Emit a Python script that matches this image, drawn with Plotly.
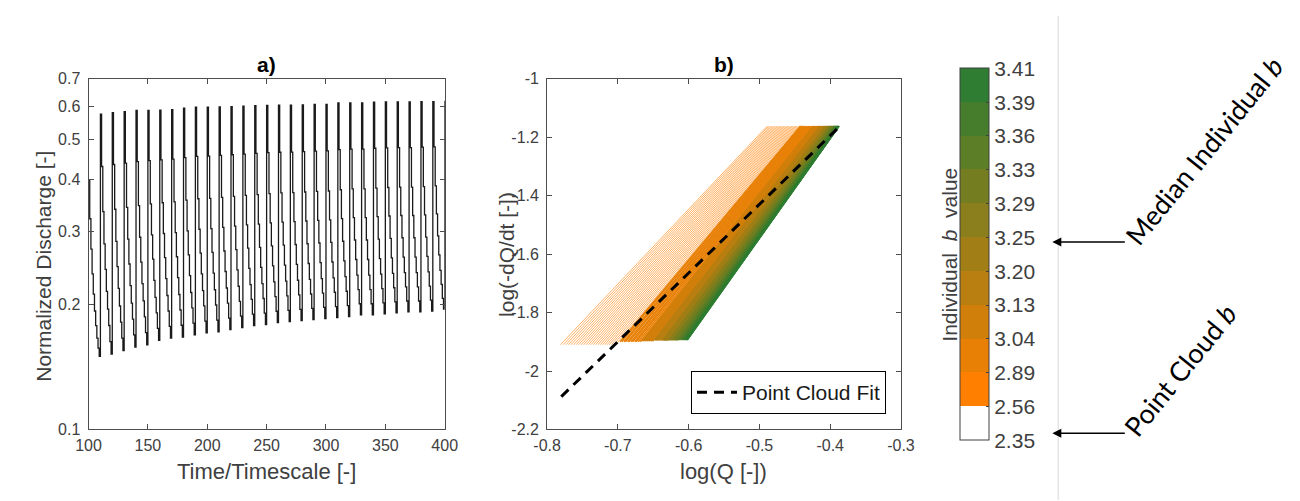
import numpy as np
import plotly.graph_objects as go

# ---------------- Panel a data ----------------
# events (rain pulses) every 10 time units
event_times = [110, 120, 130, 140, 150, 160, 170, 180, 190, 200,
               210, 220, 230, 240, 250, 260, 270, 280, 290, 300,
               310, 320, 330, 340, 350, 360, 370, 380, 390, 400]
# discharge reached at each pulse
peak_q = [0.575, 0.580, 0.583, 0.587, 0.587, 0.588, 0.590, 0.595, 0.598, 0.598,
          0.599, 0.600, 0.601, 0.603, 0.604, 0.605, 0.605, 0.606, 0.607, 0.607,
          0.612, 0.612, 0.612, 0.615, 0.616, 0.616, 0.616, 0.617, 0.617, 0.620]
# discharge just before each pulse (end of the preceding recession)
trough_q = [0.150, 0.152, 0.155, 0.158, 0.160, 0.164, 0.166, 0.167, 0.169, 0.171,
            0.172, 0.174, 0.176, 0.178, 0.179, 0.181, 0.182, 0.183, 0.184, 0.185,
            0.186, 0.187, 0.189, 0.189, 0.190, 0.191, 0.192, 0.192, 0.193, 0.195]
# recession read from the first event: position of each daily value between
# trough (0) and peak (1), in log space, for days 0..9 after a pulse
recession_profile = [1.0, 0.782, 0.594, 0.459, 0.353, 0.261, 0.187, 0.119, 0.052, 0.0]
# recession already running at the left edge of the window (t = 100..109)
initial_t = [100, 101, 102, 103, 104, 105, 106, 107, 108, 109]
initial_q = [0.400, 0.322, 0.272, 0.237, 0.212, 0.193, 0.178, 0.166, 0.157, 0.150]

# ---------------- Panel b data ----------------
cb_ticks = [2.35, 2.56, 2.89, 3.04, 3.13, 3.20, 3.25, 3.29, 3.33, 3.36, 3.39, 3.41]
cb_ticktext = ["2.35", "2.56", "2.89", "3.04", "3.13", "3.20", "3.25", "3.29",
               "3.33", "3.36", "3.39", "3.41"]
b_individual = [
    2.56, 2.574, 2.588, 2.602, 2.616, 2.63, 2.644, 2.658, 2.672, 2.686, 2.70, 2.714,
    2.728, 2.742, 2.756, 2.77, 2.784, 2.798, 2.812, 2.826, 2.84, 2.854, 2.868, 2.882,
    2.895, 2.905, 2.92, 2.93, 2.945, 2.955, 2.97, 2.98, 2.995, 3.005, 3.02, 3.035,
    3.045, 3.05, 3.06, 3.065, 3.075, 3.08, 3.09, 3.095, 3.105, 3.11, 3.12, 3.125,
    3.135, 3.14, 3.145, 3.15, 3.155, 3.16, 3.165, 3.17, 3.18, 3.185, 3.19, 3.195,
    3.202, 3.206, 3.21, 3.214, 3.218, 3.222, 3.226, 3.23, 3.234, 3.238, 3.242, 3.246,
    3.252, 3.255, 3.258, 3.261, 3.264, 3.268, 3.271, 3.274, 3.277, 3.28, 3.284, 3.287,
    3.292, 3.295, 3.298, 3.301, 3.304, 3.308, 3.311, 3.314, 3.317, 3.32, 3.324, 3.327,
    3.332, 3.334, 3.337, 3.339, 3.342, 3.344, 3.347, 3.349, 3.352, 3.354, 3.356, 3.358,
    3.362, 3.364, 3.367, 3.369, 3.372, 3.374, 3.377, 3.379, 3.382, 3.384, 3.386, 3.388,
    3.391, 3.393, 3.395, 3.396, 3.398, 3.40, 3.402, 3.403, 3.405, 3.407, 3.408, 3.41,
]
# individual fits pass (approximately) through a common point
pivot_logq = -0.0818
pivot_logdq = -0.1196
logdq_top = -1.162
logdq_bottom_by_band = [-1.910, -1.900, -1.897, -1.895, -1.895,
                        -1.894, -1.894, -1.893, -1.893, -1.893]
# point cloud fit
fit_b = 2.35
fit_intercept = -0.2545
fit_logq_range = [-0.78, -0.39]

band_colors = ["#ffffff", "#ff8000", "#e88006", "#d17f0b", "#b97f11", "#a27f16",
               "#8b7e1c", "#747e21", "#5c7e27", "#457d2c", "#2e7d32"]

FONT = "Liberation Sans, Arial, sans-serif"
GREY = "#404040"
W, H = 1300, 501


def px(x):
    return x / W


def py(y):
    return 1 - y / H


# ---------------- build panel a series ----------------
t_series = list(initial_t)
q_series = list(initial_q)
for i, te in enumerate(event_times):
    if i == len(event_times) - 1:
        t_series.append(te)
        q_series.append(peak_q[i])
        break
    tr = trough_q[i + 1]
    for k, f in enumerate(recession_profile):
        t_series.append(te + k)
        q_series.append(tr * (peak_q[i] / tr) ** f)

fig = go.Figure()

fig.add_trace(go.Scatter(
    x=t_series, y=q_series, mode="lines", line=dict(color="#1a1a1a", width=1.3, shape="hv"),
    showlegend=False, xaxis="x", yaxis="y", hoverinfo="skip"))

# ---------------- panel b individual lines ----------------
b_arr = np.array(b_individual)
band_idx = np.clip(np.searchsorted(cb_ticks, b_arr, side="right") - 1, 1, 10)
for band in range(1, 11):
    xs, ys = [], []
    ybot = logdq_bottom_by_band[band - 1]
    for b in b_arr[band_idx == band]:
        x_top = pivot_logq + (logdq_top - pivot_logdq) / b
        x_bot = pivot_logq + (ybot - pivot_logdq) / b
        xs += [x_bot, x_top, None]
        ys += [ybot, logdq_top, None]
    fig.add_trace(go.Scatter(
        x=xs, y=ys, mode="lines",
        opacity=0.6 if band == 1 else 1.0,
        line=dict(color=band_colors[band], width=1.0 if band == 1 else 1.6),
        showlegend=False, xaxis="x2", yaxis="y2", hoverinfo="skip"))

# point cloud fit
fit_x = np.array(fit_logq_range)
fig.add_trace(go.Scatter(
    x=fit_x, y=fit_intercept + fit_b * fit_x, mode="lines",
    line=dict(color="black", width=3, dash="10px,7px"),
    name="Point Cloud Fit", showlegend=True, xaxis="x2", yaxis="y2", hoverinfo="skip"))

# colorbar (discrete bands, evenly spaced ticks)
nb = len(cb_ticks) - 1
cscale = []
for k in range(nb):
    cscale.append([k / nb, band_colors[k]])
    cscale.append([(k + 1) / nb, band_colors[k]])
fig.add_trace(go.Scatter(
    x=[None], y=[None], mode="markers", showlegend=False, xaxis="x2", yaxis="y2",
    marker=dict(color=[0], cmin=0, cmax=nb, colorscale=cscale, showscale=True,
                colorbar=dict(
                    x=px(959), xanchor="left", xpad=0, ypad=0,
                    y=py(246.7), yanchor="middle",
                    thickness=29, thicknessmode="pixels",
                    len=372, lenmode="pixels",
                    outlinecolor=GREY, outlinewidth=1,
                    tickmode="array", tickvals=list(range(nb + 1)), ticktext=cb_ticktext,
                    ticks="inside", ticklen=3, tickcolor=GREY,
                    tickfont=dict(family=FONT, size=21, color=GREY)))))

axis_common = dict(showline=True, linecolor="#4d4d4d", linewidth=1, mirror="ticks",
                   ticks="inside", ticklen=5, tickcolor="#4d4d4d", showgrid=False,
                   zeroline=False, tickfont=dict(family=FONT, size=16, color=GREY))

fig.update_layout(
    width=W, height=H, margin=dict(l=0, r=0, t=0, b=0),
    paper_bgcolor="white", plot_bgcolor="white",
    font=dict(family=FONT, color=GREY),
    xaxis=dict(domain=[px(68), px(432)], range=[100, 400],
               tickmode="array", tickvals=[100, 150, 200, 250, 300, 350, 400],
               ticklabelstandoff=1, anchor="y", **axis_common),
    yaxis=dict(domain=[py(428), py(65)], type="log", range=[-1, np.log10(0.7)],
               tickmode="array", tickvals=[0.1, 0.2, 0.3, 0.4, 0.5, 0.6, 0.7],
               ticktext=["0.1", "0.2", "0.3", "0.4", "0.5", "0.6", "0.7"],
               ticklabelstandoff=4, anchor="x", **axis_common),
    xaxis2=dict(domain=[px(536.7), px(898.3)], range=[-0.8, -0.3],
                tickmode="array", tickvals=[-0.8, -0.7, -0.6, -0.5, -0.4, -0.3],
                ticktext=["-0.8", "-0.7", "-0.6", "-0.5", "-0.4", "-0.3"],
                ticklabelstandoff=1, anchor="y2", **axis_common),
    yaxis2=dict(domain=[py(428), py(65)], range=[-2.2, -1],
                tickmode="array", tickvals=[-2.2, -2, -1.8, -1.6, -1.4, -1.2, -1],
                ticktext=["-2.2", "-2", "-1.8", "-1.6", "-1.4", "-1.2", "-1"],
                ticklabelstandoff=4, anchor="x2", **axis_common),
    legend=dict(x=px(883), xanchor="right", y=py(412), yanchor="bottom",
                bordercolor="black", borderwidth=1, bgcolor="white",
                font=dict(family=FONT, size=21, color="#1a1a1a"),
                itemwidth=40, tracegroupgap=0),
)

ann = []


def text(x, y, s, size, color=GREY, angle=0, family=FONT):
    ann.append(dict(x=px(x), y=py(y), xref="paper", yref="paper", text=s, showarrow=False,
                    xanchor="center", yanchor="middle", textangle=angle,
                    font=dict(family=family, size=size, color=color)))


text(250, 50, "<b>a)</b>", 21, color="black")
text(717.5, 50, "<b>b)</b>", 21, color="black")
text(250, 472, "Time/Timescale [-]", 22)
text(22, 259, "Normalized Discharge [-]", 21, angle=-90)
text(717, 472, "log(Q [-])", 22)
text(495, 247, "log(-dQ/dt [-])", 21, angle=-90)
text(947, 247.5, "Individual&nbsp;&nbsp;<i>b</i>&nbsp;&nbsp;value", 21, angle=-90)
text(1208, 139, "Median Individual <i>b</i>", 27, color="black", angle=-51,
     family="Lato, Open Sans, sans-serif")
text(1184, 366, "Point Cloud <i>b</i>", 27, color="black", angle=-51,
     family="Lato, Open Sans, sans-serif")

for yy in (234, 432):
    ann.append(dict(x=px(1053), y=py(yy), xref="paper", yref="paper", text="",
                    showarrow=True, ax=74, ay=0, axref="pixel", ayref="pixel",
                    arrowhead=2, arrowsize=1.2, arrowwidth=1.5, arrowcolor="black"))

fig.update_layout(annotations=ann,
                  shapes=[dict(type="line", xref="paper", yref="paper",
                               x0=px(1059), x1=px(1059), y0=0, y1=1,
                               line=dict(color="#d9d9d9", width=1))])

fig.write_html("out.html", config={"displayModeBar": False})
